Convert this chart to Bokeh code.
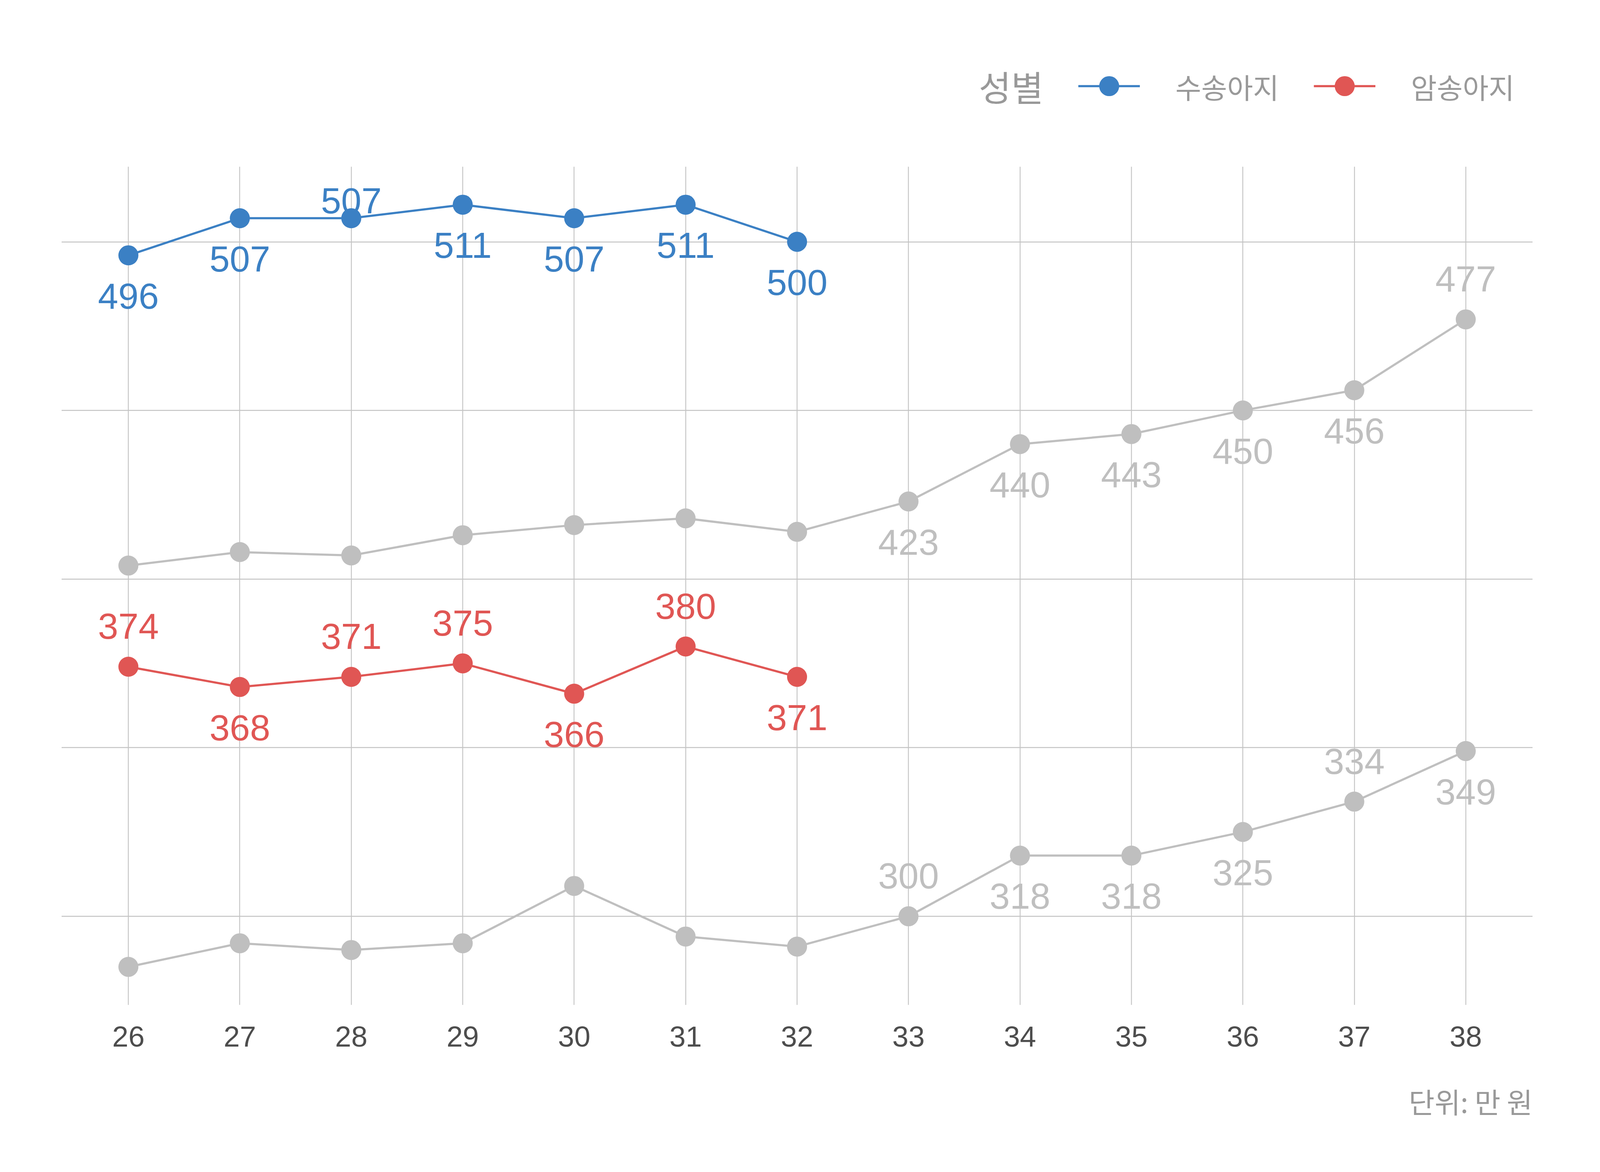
from bokeh.plotting import figure
from bokeh.layouts import column
from bokeh.models import (ColumnDataSource, Legend, LegendItem, FixedTicker,
                          Range1d, Grid, Title, Label)
from bokeh.core.properties import value
from bokeh.embed import file_html
from bokeh.resources import INLINE

# ---------------- data ----------------
ages = [26, 27, 28, 29, 30, 31, 32, 33, 34, 35, 36, 37, 38]
calf_ages = [26, 27, 28, 29, 30, 31, 32]
male_calf = [496, 507, 507, 511, 507, 511, 500]          # 수송아지
female_calf = [374, 368, 371, 375, 366, 380, 371]        # 암송아지
gray_upper = [404, 408, 407, 413, 416, 418, 414, 423, 440, 443, 450, 456, 477]
gray_lower = [285, 292, 290, 292, 309, 294, 291, 300, 318, 318, 325, 334, 349]
labelled_ages = [33, 34, 35, 36, 37, 38]
x_ticks = [26, 27, 28, 29, 30, 31, 32, 33, 34, 35, 36, 37, 38]
y_grid = [300, 350, 400, 450, 500]
legend_title = "성별"
series_names = ["수송아지", "암송아지"]
caption = "단위: 만 원"

# label placement (style): where each value label sits relative to its point
male_place = ["below", "below", "close", "below", "below", "below", "below"]
female_place = ["above", "below", "above", "above", "below", "above", "below"]
upper_place = ["below", "below", "below", "below", "below", "above"]
lower_place = ["above", "below", "below", "below", "above", "below"]

# ---------------- style ----------------
BLUE = "#3b80c4"
RED = "#e05654"
GRAY = "#bfbfbf"
GRID = "#c4c4c4"
TEXT_GRAY = "#999999"
NUM_FONT = "Liberation Sans"
KR_FONT = "Noto Sans CJK KR"

W, H = 4080, 3054                 # visible browser area
SX, SY = W / 4984, H / 2984       # scale from the 5000x3000 design
SF = SX                           # font scale
SM = (SX * SY) ** 0.5             # marker / line scale

LABEL_FS = 114 * SF
OFFSETS = {"below": 102 * SY, "above": -101 * SY, "close": -44 * SY}

LH = 300                          # height of the legend strip
MS = 56 * SM
LW = 6 * SM
BL = round(192 * SX)              # left / right border of the frames

# ---------------- main chart ----------------
p = figure(width=W, height=H - LH, output_backend="svg", toolbar_location=None,
           x_range=Range1d(25.4, 38.6), y_range=Range1d(273.7, 522.3),
           y_axis_location=None,
           min_border_left=BL, min_border_right=BL,
           min_border_top=round(416 * SY) - LH, min_border_bottom=round(471 * SY))
p.outline_line_color = None
p.background_fill_color = "white"
p.border_fill_color = "white"
p.grid.visible = False

p.add_layout(Grid(dimension=0, ticker=FixedTicker(ticks=x_ticks),
                  grid_line_color=GRID, grid_line_width=2.3))
p.add_layout(Grid(dimension=1, ticker=FixedTicker(ticks=y_grid),
                  grid_line_color=GRID, grid_line_width=2.3))

ax = p.xaxis[0]
ax.ticker = FixedTicker(ticks=x_ticks)
ax.axis_line_color = None
ax.major_tick_line_color = None
ax.minor_tick_line_color = None
ax.major_tick_out = 0
ax.major_tick_in = 0
ax.major_label_standoff = 55
ax.major_label_text_font = NUM_FONT
ax.major_label_text_font_size = f"{91 * SF:.1f}px"
ax.major_label_text_color = "#4d4d4d"


def labels_src(xs, ys, places):
    return ColumnDataSource(dict(x=xs, y=ys, t=[str(v) for v in ys],
                                 dy=[OFFSETS[k] for k in places]))


def value_labels(xs, ys, places, col):
    p.text("x", "y", text="t", source=labels_src(xs, ys, places),
           text_font=value(NUM_FONT), text_font_size=value(f"{LABEL_FS:.1f}px"),
           text_color=col, text_align="center", text_baseline="middle",
           y_offset="dy")


# gray reference series
for ys, places in ((gray_upper, upper_place), (gray_lower, lower_place)):
    src = ColumnDataSource(dict(x=ages, y=ys))
    p.line("x", "y", source=src, line_color=GRAY, line_width=LW)
    p.scatter("x", "y", source=src, size=MS, fill_color=GRAY, line_color=None)
    n = len(labelled_ages)
    value_labels(labelled_ages, ys[-n:], places, GRAY)

series = ((series_names[0], male_calf, male_place, BLUE),
          (series_names[1], female_calf, female_place, RED))
for name, ys, places, col in series:
    src = ColumnDataSource(dict(x=calf_ages, y=ys))
    p.line("x", "y", source=src, line_color=col, line_width=LW)
    p.scatter("x", "y", source=src, size=MS, fill_color=col, line_color=None)
    value_labels(calf_ages, ys, places, col)

p.add_layout(Title(text=caption, align="right", text_font=KR_FONT,
                   text_font_size=f"{88 * SF:.1f}px", text_font_style="normal",
                   text_color=TEXT_GRAY, standoff=163), "below")

# ---------------- legend strip ----------------
# same series, drawn against a value range that keeps them out of view:
# only their legend keys show.
lg = figure(width=W, height=LH, output_backend="svg", toolbar_location=None,
            x_axis_location=None, y_axis_location=None,
            x_range=Range1d(25.4, 38.6), y_range=Range1d(0, 1),
            min_border_left=BL, min_border_right=BL, min_border_top=0,
            min_border_bottom=0)
lg.outline_line_color = None
lg.grid.visible = False
lg.border_fill_color = "white"
lg.background_fill_color = "white"

items = []
for name, ys, places, col in series:
    src = ColumnDataSource(dict(x=calf_ages, y=ys))
    ln = lg.line("x", "y", source=src, line_color=col, line_width=LW)
    sc = lg.scatter("x", "y", source=src, size=MS, fill_color=col, line_color=None)
    items.append(LegendItem(label=name, renderers=[ln, sc]))

GW = round(193 * SX)
GH = round(MS / 0.4)
LEG_CY = 207 * SY + 8             # legend centre, from the top
LEG_DX = 20
legend = Legend(items=items, orientation="horizontal",
                location=(round(3443 * SX - GW / 2 - BL + LEG_DX),
                          round(LH - LEG_CY - GH / 2)),
                label_text_font=KR_FONT, label_text_font_size=f"{88 * SF:.1f}px",
                label_text_color=TEXT_GRAY, label_standoff=91, spacing=89,
                glyph_width=GW, glyph_height=GH, padding=0, margin=0,
                border_line_color=None, background_fill_alpha=0)
lg.add_layout(legend, "center")
lg.add_layout(Label(x=3137 * SX - BL + LEG_DX, y=LH - LEG_CY,
                    x_units="screen", y_units="screen",
                    text=legend_title, text_font=KR_FONT,
                    text_font_size=f"{110 * SF:.1f}px", text_color=TEXT_GRAY,
                    text_align="center", text_baseline="middle"))

layout = column(lg, p, spacing=0)
open("out.html", "w").write(file_html(layout, INLINE))
